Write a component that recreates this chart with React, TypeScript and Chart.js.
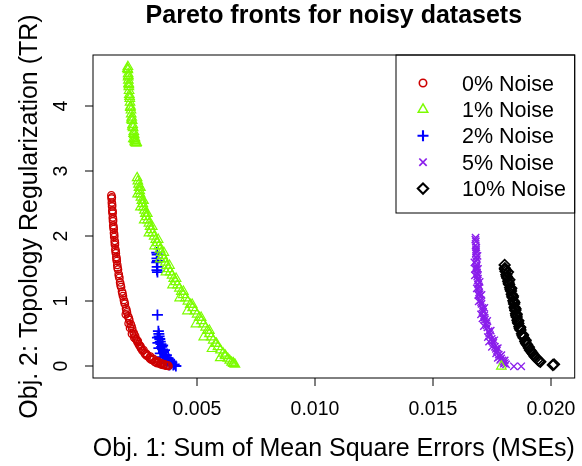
import React, { useEffect, useRef } from 'react';
import { Chart, registerables } from 'chart.js';

Chart.register(...registerables);

const TITLE = 'Pareto fronts for noisy datasets';
const X_LABEL = 'Obj. 1: Sum of Mean Square Errors (MSEs)';
const Y_LABEL = 'Obj. 2: Topology Regularization (TR)';
const SERIES_NAMES = ['0% Noise', '1% Noise', '2% Noise', '5% Noise', '10% Noise'];
const X_TICKS = [0.005, 0.01, 0.015, 0.02];
const X_TICK_LABELS = ['0.005', '0.010', '0.015', '0.020'];
const Y_TICKS = [0, 1, 2, 3, 4];
const Y_TICK_LABELS = ['0', '1', '2', '3', '4'];
const X_RANGE = [0.000612, 0.021005];
const Y_RANGE = [-0.18, 4.79];

// 0% Noise (red circles)
const noise0: [number, number][] = [
  [0.00139, 2.63], [0.0014, 2.58], [0.00141, 2.52], [0.00142, 2.46], [0.00143, 2.4], [0.00144, 2.35],
  [0.00145, 2.29], [0.00146, 2.23], [0.00147, 2.17], [0.00149, 2.11], [0.0015, 2.05], [0.00151, 1.99],
  [0.00153, 1.93], [0.00154, 1.87], [0.00156, 1.8], [0.00158, 1.74], [0.0016, 1.68], [0.00162, 1.62],
  [0.00164, 1.56], [0.00167, 1.49], [0.0017, 1.42], [0.00173, 1.36], [0.00176, 1.29], [0.0018, 1.22],
  [0.00184, 1.15], [0.00188, 1.08], [0.00192, 1.02], [0.00196, 0.96], [0.00201, 0.89], [0.00205, 0.83],
  [0.0021, 0.77], [0.00215, 0.71], [0.00221, 0.65], [0.00227, 0.58], [0.00233, 0.52], [0.0024, 0.46],
  [0.00247, 0.4], [0.00255, 0.34], [0.00263, 0.29], [0.00271, 0.24], [0.0028, 0.2], [0.0029, 0.16],
  [0.003, 0.13], [0.00311, 0.1], [0.00322, 0.07], [0.00333, 0.05], [0.00345, 0.035], [0.00357, 0.02],
  [0.00369, 0.01], [0.00381, 0.004],
  [0.00236, 0.44], [0.0025, 0.37], [0.00262, 0.31], [0.00275, 0.25], [0.00288, 0.19], [0.00304, 0.15],
  [0.00318, 0.11], [0.00334, 0.08], [0.0035, 0.05], [0.00365, 0.03], [0.00378, 0.015], [0.00226, 0.5],
  [0.00218, 0.59], [0.00212, 0.66], [0.002, 0.8],
  [0.00141, 2.6], [0.00142, 2.49], [0.00144, 2.38], [0.00146, 2.26], [0.00148, 2.14], [0.00151, 2.02],
  [0.00154, 1.9], [0.00157, 1.77], [0.00161, 1.65], [0.00165, 1.52], [0.00171, 1.39], [0.00178, 1.25],
  [0.00186, 1.12], [0.00194, 0.99], [0.00203, 0.86], [0.00213, 0.74], [0.00224, 0.62], [0.00236, 0.49],
  [0.00251, 0.39], [0.00266, 0.27], [0.00284, 0.18], [0.00305, 0.11], [0.00327, 0.06], [0.00352, 0.03],
  [0.00374, 0.01], [0.00242, 0.42], [0.00258, 0.32], [0.00292, 0.17], [0.00312, 0.12], [0.00338, 0.06],
];

// 1% Noise (green triangles)
const noise1: [number, number][] = [
  [0.00209, 4.61], [0.00209, 4.56], [0.0021, 4.5], [0.0021, 4.45], [0.00211, 4.4], [0.00212, 4.35],
  [0.00213, 4.3], [0.00214, 4.24], [0.00215, 4.18], [0.00217, 4.12], [0.00218, 4.06], [0.0022, 4.0],
  [0.00222, 3.94], [0.00223, 3.88], [0.00225, 3.83], [0.00227, 3.78], [0.00229, 3.72], [0.00231, 3.67],
  [0.00234, 3.61], [0.00236, 3.56], [0.00239, 3.51], [0.00241, 3.47], [0.00244, 3.43], [0.00246, 3.44],
  [0.00238, 3.46], [0.00232, 3.5],
  [0.00207, 4.58], [0.00211, 4.47], [0.00213, 4.33], [0.00216, 4.15], [0.00219, 3.98], [0.00224, 3.8],
  [0.00228, 3.69], [0.00233, 3.58], [0.00237, 3.49], [0.0024, 3.44],
  [0.00248, 2.9], [0.00254, 2.8], [0.00259, 2.7], [0.00264, 2.6], [0.00272, 2.5], [0.00279, 2.4],
  [0.00288, 2.3], [0.00298, 2.2], [0.00308, 2.1], [0.0032, 2.0], [0.00334, 1.9], [0.00345, 1.8],
  [0.00356, 1.7], [0.00368, 1.6], [0.00381, 1.5], [0.00396, 1.4], [0.00411, 1.3], [0.00427, 1.2],
  [0.00443, 1.1], [0.00463, 1.0], [0.00483, 0.9], [0.00502, 0.8], [0.0052, 0.7], [0.00538, 0.6],
  [0.00554, 0.5], [0.0057, 0.4], [0.0059, 0.3], [0.00612, 0.2], [0.00632, 0.12], [0.00648, 0.06],
  [0.00662, 0.03],
  [0.00262, 2.75], [0.00275, 2.55], [0.00291, 2.35], [0.00312, 2.15], [0.00337, 1.95], [0.00361, 1.75],
  [0.00385, 1.55], [0.00413, 1.35], [0.00444, 1.15], [0.00481, 0.95], [0.00519, 0.75], [0.00554, 0.55],
  [0.00584, 0.35], [0.0062, 0.17], [0.00655, 0.05],
  [0.0025, 2.65], [0.00262, 2.45], [0.00278, 2.25], [0.00298, 2.05], [0.00322, 1.85], [0.00346, 1.65],
  [0.0037, 1.45], [0.00398, 1.25], [0.00428, 1.05], [0.00461, 0.85], [0.00497, 0.65], [0.0053, 0.45],
  [0.00565, 0.27], [0.006, 0.13],
  [0.00251, 2.85], [0.00256, 2.75], [0.00261, 2.65], [0.00268, 2.55], [0.00275, 2.45], [0.00283, 2.35],
  [0.00293, 2.25], [0.00303, 2.15], [0.00314, 2.05], [0.00327, 1.95], [0.0034, 1.85], [0.0035, 1.75],
  [0.00362, 1.65], [0.00374, 1.55], [0.00388, 1.45], [0.00403, 1.35], [0.00419, 1.25], [0.00435, 1.15],
  [0.00453, 1.05], [0.00473, 0.95], [0.00492, 0.85], [0.00511, 0.75], [0.00529, 0.65], [0.00546, 0.55],
  [0.00562, 0.45], [0.0058, 0.35], [0.00601, 0.25], [0.00622, 0.16], [0.0064, 0.09], [0.00656, 0.04],
  [0.0179, 0.0],
];

// 2% Noise (blue plus)
const noise2: [number, number][] = [
  [0.00331, 1.75], [0.00333, 1.72], [0.00332, 1.66], [0.00334, 1.62], [0.00331, 1.6], [0.00333, 1.53],
  [0.00332, 1.48], [0.00334, 1.45],
  [0.00334, 0.79],
  [0.00338, 0.54], [0.0034, 0.5], [0.00341, 0.46], [0.00344, 0.42], [0.00346, 0.38], [0.00349, 0.34],
  [0.00352, 0.3], [0.00356, 0.26], [0.0036, 0.22], [0.00365, 0.18], [0.0037, 0.14], [0.00377, 0.1],
  [0.00384, 0.07], [0.00392, 0.04], [0.00401, 0.02], [0.00412, 0.005],
  [0.00334, 0.44], [0.00336, 0.36], [0.0034, 0.28], [0.00346, 0.2], [0.00354, 0.14], [0.00362, 0.09],
  [0.00372, 0.05], [0.00385, 0.02], [0.00356, 0.32], [0.00364, 0.25], [0.00372, 0.17], [0.0038, 0.12],
  [0.00395, 0.06], [0.00405, 0.03],
];

// 5% Noise (purple x)
const noise5: [number, number][] = [
  [0.01681, 1.98], [0.01682, 1.92], [0.01681, 1.86], [0.01683, 1.8], [0.01682, 1.74], [0.01684, 1.68],
  [0.01683, 1.62], [0.01685, 1.56], [0.01685, 1.5], [0.01687, 1.44], [0.01688, 1.38], [0.0169, 1.32],
  [0.01692, 1.26], [0.01694, 1.2], [0.01696, 1.14], [0.01699, 1.08], [0.01702, 1.02], [0.01706, 0.96],
  [0.01709, 0.9], [0.01713, 0.84], [0.01717, 0.78], [0.01721, 0.72], [0.01726, 0.66], [0.01731, 0.6],
  [0.01736, 0.54], [0.01742, 0.48], [0.01749, 0.42], [0.01756, 0.36], [0.01763, 0.3], [0.01771, 0.24],
  [0.01779, 0.18], [0.01789, 0.12], [0.01799, 0.07], [0.0181, 0.03], [0.01843, 0.0], [0.01874, 0.0],
  [0.01689, 1.7], [0.01691, 1.5], [0.01698, 1.3], [0.01706, 1.1], [0.01718, 0.9], [0.0173, 0.7],
  [0.01745, 0.55], [0.0176, 0.4], [0.01775, 0.28], [0.0179, 0.17], [0.01804, 0.09], [0.01676, 1.6],
  [0.01678, 1.4], [0.01686, 1.2], [0.01694, 1.0], [0.01704, 0.8], [0.01716, 0.62], [0.01733, 0.45],
  [0.0175, 0.3], [0.01768, 0.2], [0.01785, 0.1], [0.018, 0.04],
  [0.0168, 1.95], [0.01684, 1.83], [0.01683, 1.77], [0.01686, 1.65], [0.01684, 1.53], [0.01689, 1.41],
  [0.01691, 1.35], [0.01695, 1.23], [0.01698, 1.11], [0.01704, 0.99], [0.01711, 0.87], [0.01719, 0.75],
  [0.01728, 0.63], [0.01739, 0.51], [0.01752, 0.39], [0.01767, 0.27], [0.01783, 0.15], [0.01795, 0.09],
  [0.01805, 0.05], [0.01679, 1.5], [0.01692, 1.1], [0.0171, 0.74], [0.01738, 0.38], [0.01775, 0.13],
];

// 10% Noise (black diamonds)
const noise10: [number, number][] = [
  [0.01804, 1.56], [0.01805, 1.51], [0.01808, 1.46], [0.01811, 1.41], [0.01815, 1.36], [0.01819, 1.31],
  [0.01823, 1.26], [0.01827, 1.21], [0.01831, 1.16], [0.01834, 1.11], [0.01838, 1.06], [0.01841, 1.01],
  [0.01844, 0.96], [0.01846, 0.91], [0.01849, 0.86], [0.01852, 0.81], [0.01855, 0.76], [0.01858, 0.71],
  [0.01862, 0.66], [0.01866, 0.61], [0.01871, 0.56], [0.01877, 0.5], [0.01884, 0.44], [0.01891, 0.38],
  [0.01899, 0.33], [0.01907, 0.28], [0.01916, 0.23], [0.01926, 0.18], [0.01937, 0.13], [0.0195, 0.08],
  [0.02013, 0.03],
  [0.01818, 1.45], [0.01824, 1.33], [0.01832, 1.2], [0.01839, 1.08], [0.01845, 0.98], [0.0185, 0.88],
  [0.01855, 0.8], [0.01862, 0.7], [0.0187, 0.6], [0.01882, 0.48], [0.01893, 0.4], [0.01905, 0.3],
  [0.0192, 0.21], [0.02008, 0.02],
  [0.01806, 1.49], [0.01813, 1.38], [0.01821, 1.28], [0.01829, 1.18], [0.01836, 1.08], [0.01843, 0.99],
  [0.01848, 0.89], [0.01853, 0.78], [0.0186, 0.68], [0.01868, 0.58], [0.0188, 0.47], [0.01895, 0.35],
  [0.01911, 0.25], [0.01931, 0.15], [0.01944, 0.1], [0.01955, 0.07],
];

const SERIES = [noise0, noise1, noise2, noise5, noise10];
const COLORS = ['#CD0000', '#7CFC00', '#0000FF', '#8A1EEB', '#000000'];
const STYLES = ['circle', 'triangle', 'cross', 'crossRot', 'rectRot'];
const RADII = [3.7, 5.5, 5.5, 5.2, 5.2];
const WIDTHS = [1.3, 1.2, 1.8, 1.4, 1.8];

const FONT = "'Liberation Sans', Arial, Helvetica, sans-serif";

function drawMarker(ctx: CanvasRenderingContext2D, style: string, x: number, y: number, r: number) {
  ctx.beginPath();
  if (style === 'circle') {
    ctx.arc(x, y, r, 0, Math.PI * 2);
  } else if (style === 'triangle') {
    let a = 0;
    ctx.moveTo(x + Math.sin(a) * r, y - Math.cos(a) * r);
    a += (2 * Math.PI) / 3;
    ctx.lineTo(x + Math.sin(a) * r, y - Math.cos(a) * r);
    a += (2 * Math.PI) / 3;
    ctx.lineTo(x + Math.sin(a) * r, y - Math.cos(a) * r);
    ctx.closePath();
  } else if (style === 'cross') {
    ctx.moveTo(x, y - r); ctx.lineTo(x, y + r);
    ctx.moveTo(x - r, y); ctx.lineTo(x + r, y);
  } else if (style === 'crossRot') {
    const d = r * Math.SQRT1_2;
    ctx.moveTo(x - d, y - d); ctx.lineTo(x + d, y + d);
    ctx.moveTo(x - d, y + d); ctx.lineTo(x + d, y - d);
  } else if (style === 'rectRot') {
    ctx.moveTo(x - r, y); ctx.lineTo(x, y - r); ctx.lineTo(x + r, y); ctx.lineTo(x, y + r);
    ctx.closePath();
  }
  ctx.stroke();
}

const rStylePlugin = {
  id: 'rStyle',
  afterDatasetsDraw(chart: any) {
    const { ctx, chartArea: a, scales } = chart;
    const xs = scales.x;
    const ys = scales.y;
    ctx.save();
    ctx.strokeStyle = '#000';
    ctx.lineWidth = 1;
    ctx.strokeRect(a.left, a.top, a.right - a.left, a.bottom - a.top);
    ctx.fillStyle = '#000';
    ctx.font = `19.5px ${FONT}`;
    ctx.textAlign = 'center';
    ctx.textBaseline = 'alphabetic';
    X_TICKS.forEach((v, i) => {
      const px = Math.round(xs.getPixelForValue(v));
      ctx.beginPath();
      ctx.moveTo(px, a.bottom);
      ctx.lineTo(px, a.bottom + 8);
      ctx.stroke();
      ctx.fillText(X_TICK_LABELS[i], px, 415);
    });
    Y_TICKS.forEach((v, i) => {
      const py = Math.round(ys.getPixelForValue(v));
      ctx.beginPath();
      ctx.moveTo(a.left, py);
      ctx.lineTo(a.left - 8, py);
      ctx.stroke();
      ctx.save();
      ctx.translate(67, py);
      ctx.rotate(-Math.PI / 2);
      ctx.fillText(Y_TICK_LABELS[i], 0, 0);
      ctx.restore();
    });
    ctx.font = `25px ${FONT}`;
    const cx = (a.left + a.right) / 2;
    const cy = (a.top + a.bottom) / 2;
    ctx.fillText(X_LABEL, cx, 456);
    ctx.save();
    ctx.translate(37, cy);
    ctx.rotate(-Math.PI / 2);
    ctx.fillText(Y_LABEL, 0, 0);
    ctx.restore();
    ctx.font = `bold 25px ${FONT}`;
    ctx.fillText(TITLE, cx, 23);
    const lx0 = 396;
    ctx.strokeStyle = '#000';
    ctx.lineWidth = 1;
    ctx.strokeRect(lx0, a.top, a.right - lx0, 213 - a.top);
    ctx.font = `21.5px ${FONT}`;
    ctx.textAlign = 'left';
    SERIES_NAMES.forEach((name, i) => {
      const base = 90.5 + i * 26.4;
      ctx.fillStyle = '#000';
      ctx.fillText(name, 462, base);
      ctx.strokeStyle = COLORS[i];
      ctx.lineWidth = WIDTHS[i] + 0.3;
      drawMarker(ctx, STYLES[i], 423, base - 7.5, RADII[i]);
    });
    ctx.restore();
  },
};

export default function App() {
  const ref = useRef<HTMLCanvasElement | null>(null);
  useEffect(() => {
    document.body.style.margin = '0';
    const canvas = ref.current;
    if (!canvas) return;
    const chart = new Chart(canvas, {
      type: 'scatter',
      data: {
        datasets: SERIES.map((s, i) => ({
          label: SERIES_NAMES[i],
          data: s.map(([x, y]) => ({ x, y })),
          pointStyle: STYLES[i] as any,
          pointRadius: RADII[i],
          pointBorderColor: COLORS[i],
          pointBackgroundColor: 'rgba(0,0,0,0)',
          pointBorderWidth: WIDTHS[i],
          showLine: false,
        })),
      },
      options: {
        responsive: false,
        animation: false,
        devicePixelRatio: 1,
        layout: { padding: { left: 93, right: 1, top: 55, bottom: 88 } },
        scales: {
          x: { type: 'linear', min: X_RANGE[0], max: X_RANGE[1], display: false },
          y: { type: 'linear', min: Y_RANGE[0], max: Y_RANGE[1], display: false },
        },
        plugins: {
          legend: { display: false },
          tooltip: { enabled: false },
          title: { display: false },
        },
      },
      plugins: [rStylePlugin],
    });
    return () => chart.destroy();
  }, []);
  return (
    <div style={{ position: 'absolute', left: 0, top: 0, width: 582, height: 466, background: '#fff' }}>
      <canvas ref={ref} width={582} height={466} style={{ display: 'block', width: 582, height: 466 }} />
    </div>
  );
}
